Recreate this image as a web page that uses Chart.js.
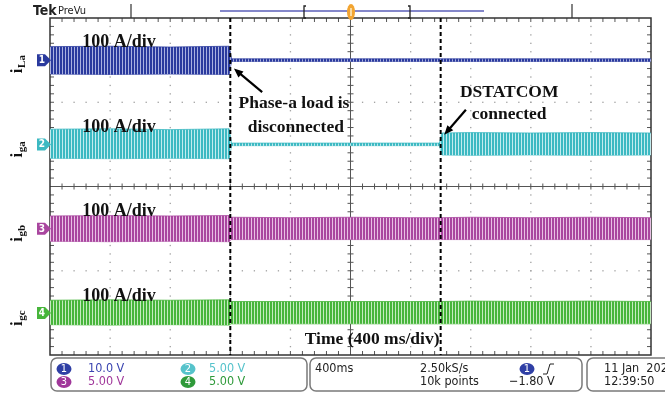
<!DOCTYPE html>
<html>
<head>
<meta charset="utf-8">
<script src="https://cdn.jsdelivr.net/npm/chart.js@4.4.0/dist/chart.umd.min.js"></script>
<style>
html, body { margin: 0; padding: 0; background: #fff; }
#wrap { width: 665px; height: 393px; }
</style>
</head>
<body>
<div id="wrap"><canvas id="scope" width="665" height="393"></canvas></div>
<script>
// tempo in divisioni (400 ms/div), correnti in A (100 A/div)
const tempi   = [0, 1, 2, 2.98, 3.02, 4, 5, 6, 6.48, 6.52, 7, 8, 9, 10];
const iLaSu   = [32, 33, 31, 33, 3, 3, 3, 3, 3, 3, 3, 3, 3, 3];
const iLaGiu  = [-33, -34, -33, -34, -3, -3, -3, -3, -3, -3, -3, -3, -3, -3];
const igaSu   = [36, 37, 35, 37, 3, 3, 3, 3, 3, 27, 28, 27, 28, 27];
const igaGiu  = [-33, -34, -33, -34, -3, -3, -3, -3, -3, -25, -26, -25, -26, -25];
const igbSu   = [30, 31, 30, 31, 27, 26, 27, 26, 26, 26, 27, 26, 27, 26];
const igbGiu  = [-30, -31, -30, -31, -26, -26, -26, -26, -26, -26, -26, -26, -26, -26];
const igcSu   = [30, 31, 30, 31, 27, 27, 27, 27, 27, 27, 28, 27, 28, 27];
const igcGiu  = [-28, -29, -28, -29, -26, -26, -26, -26, -26, -26, -26, -26, -26, -26];

const offsetCanali = [3, 1, -1, -3];            // posizione dei canali in div
const nomiCanali   = ['La', 'ga', 'gb', 'gc'];
const coloriCanali = ['#2a3a9e', '#3cb9c2', '#a9469f', '#47b53b'];
const chiariCanali = ['#aab1e0', '#c2ecef', '#e8c0e4', '#c4ebbf'];
const eventi       = [3.0, 6.5];                // carico scollegato, DSTATCOM collegato

const inviluppi = [[iLaSu, iLaGiu], [igaSu, igaGiu], [igbSu, igbGiu], [igcSu, igcGiu]];

// pattern a righe verticali per simulare la traccia densa
function righe(colore, chiaro) {
  const c = document.createElement('canvas');
  c.width = 3; c.height = 1;
  const g = c.getContext('2d');
  g.fillStyle = colore; g.fillRect(0, 0, 2, 1);
  g.fillStyle = chiaro; g.fillRect(2, 0, 1, 1);
  return g.createPattern(c, 'repeat');
}

const datasets = [];
inviluppi.forEach((coppia, k) => {
  const off = offsetCanali[k];
  datasets.push({
    data: tempi.map((t, i) => ({ x: t, y: off + coppia[0][i] / 100 })),
    borderColor: coloriCanali[k], borderWidth: 0.8,
    backgroundColor: righe(coloriCanali[k], chiariCanali[k]),
    fill: '+1', pointRadius: 0, tension: 0
  });
  datasets.push({
    data: tempi.map((t, i) => ({ x: t, y: off + coppia[1][i] / 100 })),
    borderColor: coloriCanali[k], borderWidth: 0.8,
    fill: false, pointRadius: 0, tension: 0
  });
});

const SERIF = '"Liberation Serif", "DejaVu Serif", serif';
const NARROW = '"Liberation Sans Narrow", "DejaVu Sans Condensed", "Liberation Sans", sans-serif';

// griglia dell'oscilloscopio
const griglia = {
  id: 'griglia',
  beforeDatasetsDraw(chart) {
    const { ctx, chartArea: a, scales: { x, y } } = chart;
    ctx.save();
    ctx.fillStyle = '#a0a0a0';
    for (let i = 1; i < 10; i++) {
      if (i === 5) continue;
      const px = x.getPixelForValue(i);
      for (let j = 1; j < 40; j++) {
        const py = y.getPixelForValue(-4 + j * 0.2);
        ctx.fillRect(px - 0.6, py - 0.6, 1.3, 1.3);
      }
    }
    for (let j = -3; j <= 3; j++) {
      if (j === 0) continue;
      const py = y.getPixelForValue(j);
      for (let i = 1; i < 50; i++) {
        const px = x.getPixelForValue(i * 0.2);
        ctx.fillRect(px - 0.6, py - 0.6, 1.3, 1.3);
      }
    }
    // croce centrale con tacche
    const cx = x.getPixelForValue(5), cy = y.getPixelForValue(0);
    ctx.strokeStyle = '#555'; ctx.lineWidth = 1;
    ctx.beginPath();
    ctx.moveTo(cx, a.top); ctx.lineTo(cx, a.bottom);
    ctx.moveTo(a.left, cy); ctx.lineTo(a.right, cy);
    for (let i = 1; i < 50; i++) {
      const px = x.getPixelForValue(i * 0.2);
      ctx.moveTo(px, cy - 3); ctx.lineTo(px, cy + 3);
      ctx.moveTo(px, a.top); ctx.lineTo(px, a.top + 4);
      ctx.moveTo(px, a.bottom); ctx.lineTo(px, a.bottom - 4);
    }
    for (let j = 1; j < 40; j++) {
      const py = y.getPixelForValue(-4 + j * 0.2);
      ctx.moveTo(cx - 3, py); ctx.lineTo(cx + 3, py);
      ctx.moveTo(a.left, py); ctx.lineTo(a.left + 4, py);
      ctx.moveTo(a.right, py); ctx.lineTo(a.right - 4, py);
    }
    ctx.stroke();
    ctx.strokeStyle = '#333'; ctx.lineWidth = 1.5;
    ctx.strokeRect(a.left, a.top, a.right - a.left, a.bottom - a.top);
    ctx.restore();
  },
  afterDatasetsDraw(chart) {
    const { ctx, chartArea: a, scales: { x } } = chart;
    ctx.save();
    ctx.strokeStyle = '#000'; ctx.lineWidth = 2; ctx.setLineDash([4, 3]);
    eventi.forEach(e => {
      const px = x.getPixelForValue(e);
      ctx.beginPath(); ctx.moveTo(px, a.top); ctx.lineTo(px, a.bottom); ctx.stroke();
    });
    ctx.restore();
  }
};

// scritte, frecce, etichette e barra di stato
const scritte = {
  id: 'scritte',
  afterDraw(chart) {
    const { ctx, chartArea: a, scales: { x, y } } = chart;
    ctx.save();
    ctx.fillStyle = '#111';
    ctx.textAlign = 'center'; ctx.textBaseline = 'middle';
    ctx.font = 'bold 18px ' + SERIF;
    [3.43, 1.41, -0.6, -2.6].forEach(v => ctx.fillText('100 A/div', x.getPixelForValue(1.15), y.getPixelForValue(v)));
    ctx.font = 'bold 17.5px ' + SERIF;
    ctx.fillText('Phase-a load is', x.getPixelForValue(4.06), y.getPixelForValue(1.97));
    ctx.fillText('disconnected', x.getPixelForValue(4.09), y.getPixelForValue(1.4));
    ctx.fillText('DSTATCOM', x.getPixelForValue(7.64), y.getPixelForValue(2.22));
    ctx.fillText('connected', x.getPixelForValue(7.64), y.getPixelForValue(1.7));
    ctx.fillText('Time (400 ms/div)', x.getPixelForValue(5.36), y.getPixelForValue(-3.64));

    // frecce
    function freccia(x0, y0, x1, y1) {
      const p0 = [x.getPixelForValue(x0), y.getPixelForValue(y0)];
      const p1 = [x.getPixelForValue(x1), y.getPixelForValue(y1)];
      const ang = Math.atan2(p1[1] - p0[1], p1[0] - p0[0]);
      ctx.strokeStyle = '#000'; ctx.lineWidth = 2.2;
      ctx.beginPath(); ctx.moveTo(p0[0], p0[1]);
      ctx.lineTo(p1[0] - 6 * Math.cos(ang), p1[1] - 6 * Math.sin(ang)); ctx.stroke();
      ctx.fillStyle = '#000';
      ctx.beginPath();
      ctx.moveTo(p1[0], p1[1]);
      ctx.lineTo(p1[0] - 10 * Math.cos(ang - 0.4), p1[1] - 10 * Math.sin(ang - 0.4));
      ctx.lineTo(p1[0] - 10 * Math.cos(ang + 0.4), p1[1] - 10 * Math.sin(ang + 0.4));
      ctx.closePath(); ctx.fill();
    }
    freccia(3.53, 2.24, 3.06, 2.8);
    freccia(6.92, 1.82, 6.56, 1.23);

    // marcatori dei canali ed etichette ruotate
    offsetCanali.forEach((off, k) => {
      const py = y.getPixelForValue(off);
      ctx.fillStyle = coloriCanali[k];
      ctx.beginPath();
      ctx.moveTo(37, py - 6); ctx.lineTo(45, py - 6); ctx.lineTo(51, py);
      ctx.lineTo(45, py + 6); ctx.lineTo(37, py + 6); ctx.closePath(); ctx.fill();
      ctx.fillStyle = '#fff'; ctx.font = 'bold 10px ' + NARROW;
      ctx.fillText(String(k + 1), 42, py + 0.5);

      ctx.save();
      ctx.translate(18, py + 13);
      ctx.rotate(-Math.PI / 2);
      ctx.fillStyle = '#111'; ctx.textAlign = 'left'; ctx.textBaseline = 'alphabetic';
      ctx.font = 'bold 17px ' + SERIF;
      ctx.fillText('i', 0, 4);
      const w = ctx.measureText('i').width;
      ctx.font = 'bold 11px ' + SERIF;
      ctx.fillText(nomiCanali[k], w + 0.5, 7);
      ctx.restore();
    });

    // intestazione
    ctx.textAlign = 'left'; ctx.textBaseline = 'middle';
    ctx.fillStyle = '#222';
    ctx.font = 'bold 14px ' + NARROW;
    ctx.fillText('Tek', 33, 11);
    ctx.font = '11px ' + NARROW;
    ctx.fillText('PreVu', 58, 11);
    ctx.strokeStyle = '#333'; ctx.lineWidth = 1.2;
    ctx.beginPath();
    ctx.moveTo(131, 4); ctx.lineTo(131, a.top);
    ctx.moveTo(572, 4); ctx.lineTo(572, a.top);
    ctx.stroke();
    ctx.strokeStyle = '#5b5fb8'; ctx.lineWidth = 1.5;
    ctx.beginPath(); ctx.moveTo(220, 11); ctx.lineTo(484, 11); ctx.stroke();
    ctx.strokeStyle = '#222'; ctx.lineWidth = 1.3;
    ctx.beginPath();
    ctx.moveTo(306, 6); ctx.lineTo(304, 6); ctx.lineTo(304, 18); ctx.lineTo(306, 18);
    ctx.moveTo(408, 6); ctx.lineTo(410, 6); ctx.lineTo(410, 18); ctx.lineTo(408, 18);
    ctx.stroke();
    ctx.fillStyle = '#f2a431';
    ctx.beginPath(); ctx.ellipse(351, 12, 4, 8, 0, 0, Math.PI * 2); ctx.fill();
    ctx.fillStyle = '#f8d9a0'; ctx.fillRect(350, 8, 2, 8);

    // barra di stato
    ctx.strokeStyle = '#7a7a7a'; ctx.lineWidth = 1.5; ctx.fillStyle = '#fff';
    [[51, 307], [310, 582], [587, 672]].forEach(b => {
      ctx.beginPath(); ctx.roundRect(b[0], 358, b[1] - b[0], 33, 6); ctx.fill(); ctx.stroke();
    });
    function bollo(cx, cy, col, n) {
      ctx.fillStyle = col;
      ctx.beginPath(); ctx.ellipse(cx, cy, 7.5, 6, 0, 0, Math.PI * 2); ctx.fill();
      ctx.fillStyle = '#fff'; ctx.textAlign = 'center'; ctx.font = '11px ' + NARROW;
      ctx.fillText(n, cx, cy + 0.5);
      ctx.textAlign = 'left';
    }
    const r1 = 369, r2 = 382;
    bollo(64, r1, '#2f3fa5', '1'); bollo(64, r2, '#a0379a', '3');
    bollo(188, r1, '#56c3cb', '2'); bollo(188, r2, '#2f9a3a', '4');
    ctx.font = '12.5px ' + NARROW;
    ctx.fillStyle = '#3a44b0'; ctx.fillText('10.0 V', 88, r1);
    ctx.fillStyle = '#a0379a'; ctx.fillText('5.00 V', 88, r2);
    ctx.fillStyle = '#56c3cb'; ctx.fillText('5.00 V', 209, r1);
    ctx.fillStyle = '#2f9a3a'; ctx.fillText('5.00 V', 209, r2);
    ctx.fillStyle = '#222';
    ctx.fillText('400ms', 315, r1);
    ctx.fillText('2.50kS/s', 420, r1);
    ctx.fillText('10k points', 420, r2);
    ctx.fillText('\u22121.80 V', 509, r2);
    ctx.fillText('11 Jan  2022', 604, r1);
    ctx.fillText('12:39:50', 604, r2);
    bollo(527, r1, '#2f3fa5', '1');
    ctx.strokeStyle = '#222'; ctx.lineWidth = 1;
    ctx.beginPath(); ctx.moveTo(543, r1 + 5); ctx.lineTo(547, r1 + 5); ctx.lineTo(550, r1 - 5); ctx.lineTo(554, r1 - 5); ctx.stroke();
    ctx.restore();
  }
};

new Chart(document.getElementById('scope'), {
  type: 'line',
  data: { datasets: datasets },
  options: {
    responsive: false,
    animation: false,
    layout: { padding: { left: 50, top: 18, right: 14, bottom: 38 } },
    plugins: { legend: { display: false }, tooltip: { enabled: false } },
    scales: {
      x: { type: 'linear', min: 0, max: 10, display: false },
      y: { type: 'linear', min: -4, max: 4, display: false }
    }
  },
  plugins: [griglia, scritte]
});
</script>
</body>
</html>
